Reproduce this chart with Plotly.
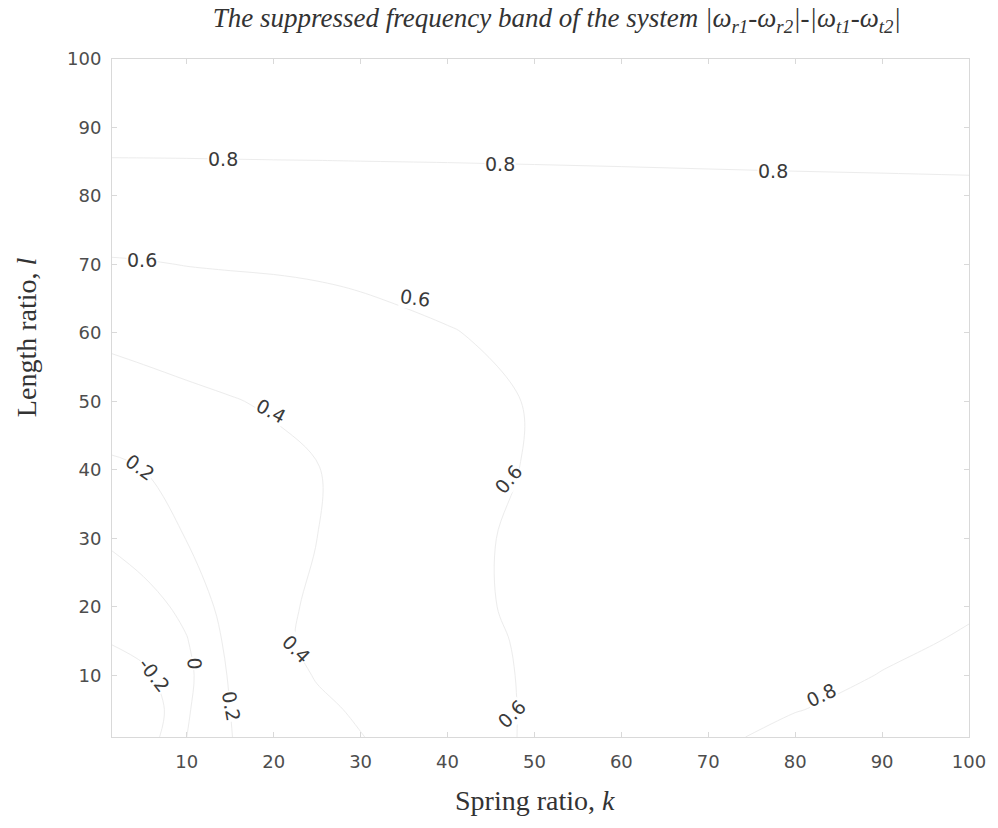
import plotly.graph_objects as go

# Grid of the suppressed band value over spring ratio k and length ratio l
k_nodes = [1, 5, 10, 15, 20, 25, 30, 40, 50, 60, 70, 80, 90, 100]
l_nodes = [1, 5, 10, 15, 20, 30, 40, 50, 60, 70, 80, 90, 100]

z_l1 = [-0.50, -0.32, 0.00, 0.195, 0.29, 0.35, 0.395, 0.50, 0.625, 0.70, 0.77, 0.84, 0.88, 0.91]
z_l5 = [-0.45, -0.37, -0.02, 0.20, 0.30, 0.37, 0.42, 0.52, 0.62, 0.69, 0.745, 0.795, 0.84, 0.87]
z_l10 = [-0.36, -0.245, -0.045, 0.22, 0.33, 0.41, 0.45, 0.53, 0.62, 0.67, 0.71, 0.75, 0.805, 0.85]
z_l15 = [-0.19, -0.12, -0.01, 0.25, 0.37, 0.43, 0.47, 0.55, 0.62, 0.665, 0.70, 0.73, 0.77, 0.815]
z_l20 = [-0.12, -0.08, 0.05, 0.29, 0.37, 0.42, 0.46, 0.56, 0.63, 0.67, 0.70, 0.73, 0.76, 0.785]
z_l30 = [0.02, 0.10, 0.205, 0.30, 0.36, 0.40, 0.44, 0.555, 0.635, 0.67, 0.69, 0.71, 0.73, 0.75]
z_l40 = [0.17, 0.20, 0.25, 0.30, 0.35, 0.395, 0.44, 0.53, 0.615, 0.66, 0.68, 0.70, 0.715, 0.73]
z_l50 = [0.30, 0.33, 0.36, 0.39, 0.42, 0.45, 0.48, 0.545, 0.61, 0.655, 0.675, 0.69, 0.705, 0.72]
z_l60 = [0.44, 0.46, 0.49, 0.51, 0.53, 0.55, 0.57, 0.595, 0.625, 0.65, 0.67, 0.685, 0.70, 0.715]
z_l70 = [0.585, 0.591, 0.603, 0.609, 0.612, 0.616, 0.62, 0.64, 0.66, 0.68, 0.70, 0.715, 0.73, 0.74]
z_l80 = [0.724, 0.725, 0.727, 0.73, 0.733, 0.735, 0.738, 0.743, 0.749, 0.755, 0.761, 0.766, 0.77, 0.774]
z_l90 = [0.86, 0.86, 0.86, 0.86, 0.86, 0.86, 0.86, 0.86, 0.86, 0.86, 0.86, 0.86, 0.86, 0.86]
z_l100 = [0.90, 0.90, 0.90, 0.90, 0.90, 0.90, 0.90, 0.90, 0.90, 0.90, 0.90, 0.90, 0.90, 0.90]

z_rows = [z_l1, z_l5, z_l10, z_l15, z_l20, z_l30, z_l40, z_l50,
          z_l60, z_l70, z_l80, z_l90, z_l100]

# Contour levels
level_start, level_end, level_step = -0.2, 0.8, 0.2

# Inline contour labels: position (k, l), level value, text rotation
label_k = [6.3, 10.9, 15.1, 22.6, 4.6, 19.7, 4.85, 36.3, 47.0, 47.4, 14.2, 46.0, 77.5, 83.0]
label_l = [10.1, 11.8, 5.5, 13.8, 40.4, 48.6, 70.7, 65.1, 38.7, 4.3, 85.4, 84.7, 83.7, 7.2]
label_v = [-0.2, 0.0, 0.2, 0.4, 0.2, 0.4, 0.6, 0.6, 0.6, 0.6, 0.8, 0.8, 0.8, 0.8]
label_angle = [52, 88, 80, 45, 35, 28, 0, 8, -50, -45, 0, 0, 0, -25]

x_ticks = [10, 20, 30, 40, 50, 60, 70, 80, 90, 100]
y_ticks = [10, 20, 30, 40, 50, 60, 70, 80, 90, 100]

line_gray = "#ececec"
frame_gray = "#d9d9d9"
serif = "Liberation Serif, Times New Roman, serif"
sans = "DejaVu Sans, Arial, sans-serif"

fig = go.Figure()
fig.add_trace(go.Contour(
    x=k_nodes, y=l_nodes, z=z_rows,
    contours=dict(coloring="lines", start=level_start, end=level_end,
                  size=level_step, showlabels=False),
    colorscale=[[0, line_gray], [1, line_gray]],
    line=dict(width=1, smoothing=1.0),
    showscale=False, hoverinfo="skip",
))

label_font = dict(family=sans, size=19, color="#3a3a3a")
for kk, ll, vv, aa in zip(label_k, label_l, label_v, label_angle):
    fig.add_annotation(x=kk, y=ll, text=f"{vv:g}", showarrow=False,
                       textangle=aa, font=label_font, bgcolor="white",
                       borderpad=0)

# Axis titles
fig.add_annotation(text="Spring ratio, <i>k</i>", xref="paper", yref="paper",
                   x=0.493, y=-0.093, xanchor="center", yanchor="middle",
                   showarrow=False, font=dict(family=serif, size=28, color="#333"))
fig.add_annotation(text="Length ratio, <i>l</i>", xref="paper", yref="paper",
                   x=-0.099, y=0.59, xanchor="center", yanchor="middle",
                   textangle=-90, showarrow=False,
                   font=dict(family=serif, size=28, color="#333"))

tick_font = dict(family=sans, size=18, color="#4d4d4d")
axis_common = dict(showgrid=False, zeroline=False, showline=True, linecolor=frame_gray,
                   linewidth=1, mirror="ticks", ticks="inside", ticklen=5,
                   tickcolor=frame_gray, tickfont=tick_font)

fig.update_layout(
    width=998, height=828,
    margin=dict(l=112, r=26, t=59, b=91),
    paper_bgcolor="white", plot_bgcolor="white",
    title=dict(
        text="<i>The suppressed frequency band of the system "
             "|ω<sub>r1</sub>-ω<sub>r2</sub>|-|ω<sub>t1</sub>-ω<sub>t2</sub>|</i>",
        x=0.558, xanchor="center", y=0.99, yanchor="top",
        font=dict(family=serif, size=27, color="#333"),
    ),
    xaxis=dict(range=[1.4, 100], tickvals=x_ticks, ticklabelstandoff=8, **axis_common),
    yaxis=dict(range=[1, 100], tickvals=y_ticks, ticklabelstandoff=6, **axis_common),
    showlegend=False,
)

fig.write_html("out.html")
